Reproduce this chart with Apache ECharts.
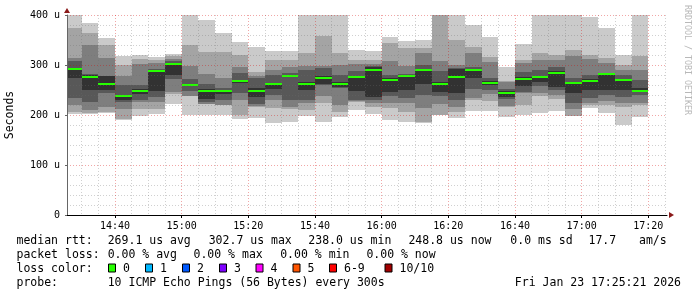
<!DOCTYPE html>
<html><head><meta charset="utf-8">
<script src="https://cdn.jsdelivr.net/npm/echarts@6/dist/echarts.min.js"></script>
<style>html,body{margin:0;padding:0;background:#fff}#c{width:697px;height:297px}</style>
</head><body><div id="c"></div><script>
// ---- data ----
const windowStart = '14:25:36';
const windowEnd = '17:25:36';
const stepEnds = ['14:30','14:35','14:40','14:45','14:50','14:55','15:00','15:05','15:10','15:15','15:20','15:25','15:30','15:35','15:40','15:45','15:50','15:55','16:00','16:05','16:10','16:15','16:20','16:25','16:30','16:35','16:40','16:45','16:50','16:55','17:00','17:05','17:10','17:15','17:20'];
// sorted ping RTTs (microseconds), lowest (ping1) to highest (ping10)
const ping1 = [202,203,204,191,198,202,222,200,201,201,192,195,185,187,198,187,196,211,202,190,187,184,200,195,209,209,197,201,204,209,198,214,205,181,197];
const ping2 = [206,205,206,192,213,213,242,238,222,221,201,217,215,212,211,225,207,226,217,214,207,187,201,207,231,229,217,221,238,233,199,221,221,217,221];
const ping3 = [221,211,217,213,226,226,247,238,223,221,231,218,231,217,225,238,221,228,224,225,224,214,223,217,235,242,219,244,245,240,213,225,228,224,225];
const ping4 = [235,226,244,226,231,237,272,249,226,231,245,222,240,231,231,261,254,231,230,238,235,241,238,231,253,251,232,247,258,250,225,235,240,236,240];
const ping5 = [274,250,251,230,243,249,281,259,233,242,264,237,252,276,251,262,256,248,236,246,250,262,246,244,274,260,236,258,266,257,244,251,250,250,246];
const ping6 = [294,280,278,241,253,290,304,263,252,250,270,255,265,280,266,278,266,279,297,275,281,292,266,292,292,268,248,276,279,288,267,272,283,273,255];
const ping7 = [309,283,279,261,261,292,308,272,262,255,284,275,281,285,291,294,280,288,299,280,283,301,288,295,297,274,252,287,290,297,274,280,285,280,271];
const ping8 = [315,340,315,278,303,304,313,298,283,274,297,279,291,297,298,298,300,303,303,308,298,324,309,301,324,307,266,305,310,310,319,312,305,290,291];
const ping9 = [375,365,341,300,312,310,319,340,327,326,321,287,310,311,325,359,325,311,310,344,334,334,405,351,337,317,268,310,325,320,331,321,314,301,318];
const ping10 = [405,385,355,318,320,316,323,405,391,365,347,337,329,328,405,405,405,330,328,356,349,351,420,405,381,357,297,343,405,405,405,396,375,321,405];
const medianRtt = [292,277,262,238.0,249,288,302.7,261,249,248,268,248,262,278,263,275,262,276,290,271,278,290,263,277,290,265,245,272,276,285,265,269,282,271,248.8];
const lossCount = [0,0,0,0,0,0,0,0,0,0,0,0,0,0,0,0,0,0,0,0,0,0,0,0,0,0,0,0,0,0,0,0,0,0,0];
const xTickLabels = ['14:40','15:00','15:20','15:40','16:00','16:20','16:40','17:00','17:20'];
const yTickValues = [0,100,200,300,400];
const yTickLabels = ['0','100 u','200 u','300 u','400 u'];
const lossLabels = ['0','1','2','3','4','5','6-9','10/10'];
const lossColors = ['#26ff00','#00b8ff','#0059ff','#7e00ff','#ff00ff','#ff5500','#ff0000','#a10000'];
const statsRtt = ['269.1 us avg','302.7 us max','238.0 us min','248.8 us now','0.0 ms sd','17.7','am/s'];
const statsLoss = ['0.00 % avg','0.00 % max','0.00 % min','0.00 % now'];
const probeText = '10 ICMP Echo Pings (56 Bytes) every 300s';
const stampText = 'Fri Jan 23 17:25:21 2026';

// ---- build ----
const smokeShades = ['#cacaca','#a4a4a4','#7e7e7e','#585858','#323232'];
function toMin(s){const p=s.split(':').map(Number);return p[0]*60+p[1]+(p[2]||0)/60;}
function fmt(v){const h=Math.floor(v/60), m=Math.round(v-h*60);return (h<10?'0':'')+h+':'+(m<10?'0':'')+m;}
const tStart = toMin(windowStart), tEnd = toMin(windowEnd);
const xMajor = xTickLabels.map(toMin);
const xMinor = [];
for (let t = Math.ceil(tStart/5)*5; t <= tEnd; t += 5) if (t % 20 !== 0) xMinor.push(t);
const pings = [ping1,ping2,ping3,ping4,ping5,ping6,ping7,ping8,ping9,ping10];
const data = stepEnds.map((s,i)=>{const e=toMin(s);return [e-5,e].concat(pings.map(p=>p[i])).concat([medianRtt[i], lossCount[i]]);});

const mono = '"DejaVu Sans Mono", monospace';
const chart = echarts.init(document.getElementById('c'), null, {renderer:'canvas'});

function renderItem(params, api){
  const cs = {x:params.coordSys.x, y:params.coordSys.y, width:params.coordSys.width, height:params.coordSys.height};
  const x0 = api.value(0), x1 = api.value(1);
  const children = [];
  for (let b=0;b<5;b++){
    const lo = api.value(2+b), hi = api.value(11-b);
    const a = api.coord([x0, hi]), c = api.coord([x1, lo]);
    const ax = Math.round(a[0]), cx = Math.round(c[0]);
    const r = echarts.graphic.clipRectByRect({x:ax, y:Math.round(a[1]), width:cx-ax, height:Math.round(c[1])-Math.round(a[1])}, cs);
    if (r) children.push({type:'rect', shape:r, style:{fill:smokeShades[b]}});
  }
  const m0 = api.coord([x0, api.value(12)]), m1 = api.coord([x1, api.value(12)]);
  const mx0 = Math.round(m0[0]), mx1 = Math.round(m1[0]);
  const mr = echarts.graphic.clipRectByRect({x:mx0, y:Math.round(m0[1])-1, width:mx1-mx0, height:2}, cs);
  const lc = lossColors[Math.min(api.value(13), lossColors.length-1)];
  if (mr) children.push({type:'rect', shape:mr, style:{fill:lc}});
  return {type:'group', children};
}

const graphics = [];
function txt(x,y,s,extra){graphics.push(Object.assign({type:'text', x:x, y:y, silent:true, style:{text:s, font:'11.5px '+mono, fill:'#000', verticalAlign:'middle', align:'left'}}, extra||{}));}
const L1=241.5, L2=255.5, L3=269.5, L4=283.5;
txt(16.5,L1,'median rtt:');
[107.7,208.7,308.3,408.4,510.3,588.5,639].forEach((x,i)=>txt(x,L1,statsRtt[i]));
txt(16.5,L2,'packet loss:');
[107.7,193.5,280.2,366.4].forEach((x,i)=>txt(x,L2,statsLoss[i]));
txt(16.5,L3,'loss color:');
const boxX=[108.5,145.5,182.5,219.5,256,293,329.5,385];
lossLabels.forEach((lab,i)=>{
  graphics.push({type:'rect', silent:true, shape:{x:boxX[i], y:264, width:7, height:8}, style:{fill:lossColors[i], stroke:'#000', lineWidth:1}});
  txt(boxX[i]+14.5, L3, lab);
});
txt(16.5,L4,'probe:');
txt(107.7,L4,probeText);
graphics.push({type:'text', x:681, y:L4, silent:true, style:{text:stampText, font:'11.5px '+mono, fill:'#000', verticalAlign:'middle', align:'right'}});
graphics.push({type:'text', x:687.5, y:5, rotation:-Math.PI/2, silent:true, style:{text:'RRDTOOL / TOBI OETIKER', font:'8.3px '+mono, fill:'#b8b8b8', verticalAlign:'middle', align:'left'}});
// axis arrows
graphics.push({type:'polygon', silent:true, z:10, shape:{points:[[67,8],[64,13],[70,13]]}, style:{fill:'#8b1a1a'}});
graphics.push({type:'polygon', silent:true, z:10, shape:{points:[[674,215],[669,212],[669,218]]}, style:{fill:'#8b1a1a'}});

const option = {
  animation:false,
  backgroundColor:'#ffffff',
  grid:{left:67, top:15, width:600, height:200, containLabel:false, outerBoundsMode:'none'},
  xAxis:[
    {type:'value', min:tStart, max:tEnd, position:'bottom', z:6,
     axisLine:{show:true, onZero:false, lineStyle:{color:'#000', width:1}},
     axisTick:{show:true, customValues:xMajor, length:3, lineStyle:{color:'#000'}},
     axisLabel:{show:true, customValues:xMajor, formatter:v=>fmt(v), margin:6, fontFamily:mono, fontSize:10, color:'#000'},
     splitLine:{show:true, lineStyle:{color:'rgba(215,0,0,0.35)', width:1, type:[1,2]}}},
    {type:'value', min:tStart, max:tEnd, position:'top', z:5,
     axisLine:{show:false}, axisLabel:{show:false},
     axisTick:{show:false, customValues:xMinor},
     splitLine:{show:true, lineStyle:{color:'rgba(110,110,110,0.32)', width:1, type:[1,2]}}}
  ],
  yAxis:{type:'value', min:0, max:400, interval:100, z:6,
    name:'Seconds', nameLocation:'middle', nameGap:51, nameRotate:90,
    nameTextStyle:{fontFamily:mono, fontSize:11.5, color:'#000'},
    axisLine:{show:true, lineStyle:{color:'#666', width:1}},
    axisTick:{show:true, length:2, lineStyle:{color:'#666'}},
    axisLabel:{margin:7, fontFamily:mono, fontSize:10, color:'#000', formatter:v=>{const k=yTickValues.indexOf(v);return k>=0?yTickLabels[k]:'';}},
    splitLine:{show:true, lineStyle:{color:'rgba(215,0,0,0.35)', width:1, type:[1,2]}},
    minorTick:{show:false, splitNumber:5},
    minorSplitLine:{show:true, lineStyle:{color:'rgba(110,110,110,0.32)', width:1, type:[1,2]}}
  },
  series:[{type:'custom', name:'smoke', renderItem:renderItem, data:data, z:2,
    encode:{x:[0,1], y:[2,11]}, clip:true}],
  graphic:graphics
};
chart.setOption(option);
</script></body></html>
